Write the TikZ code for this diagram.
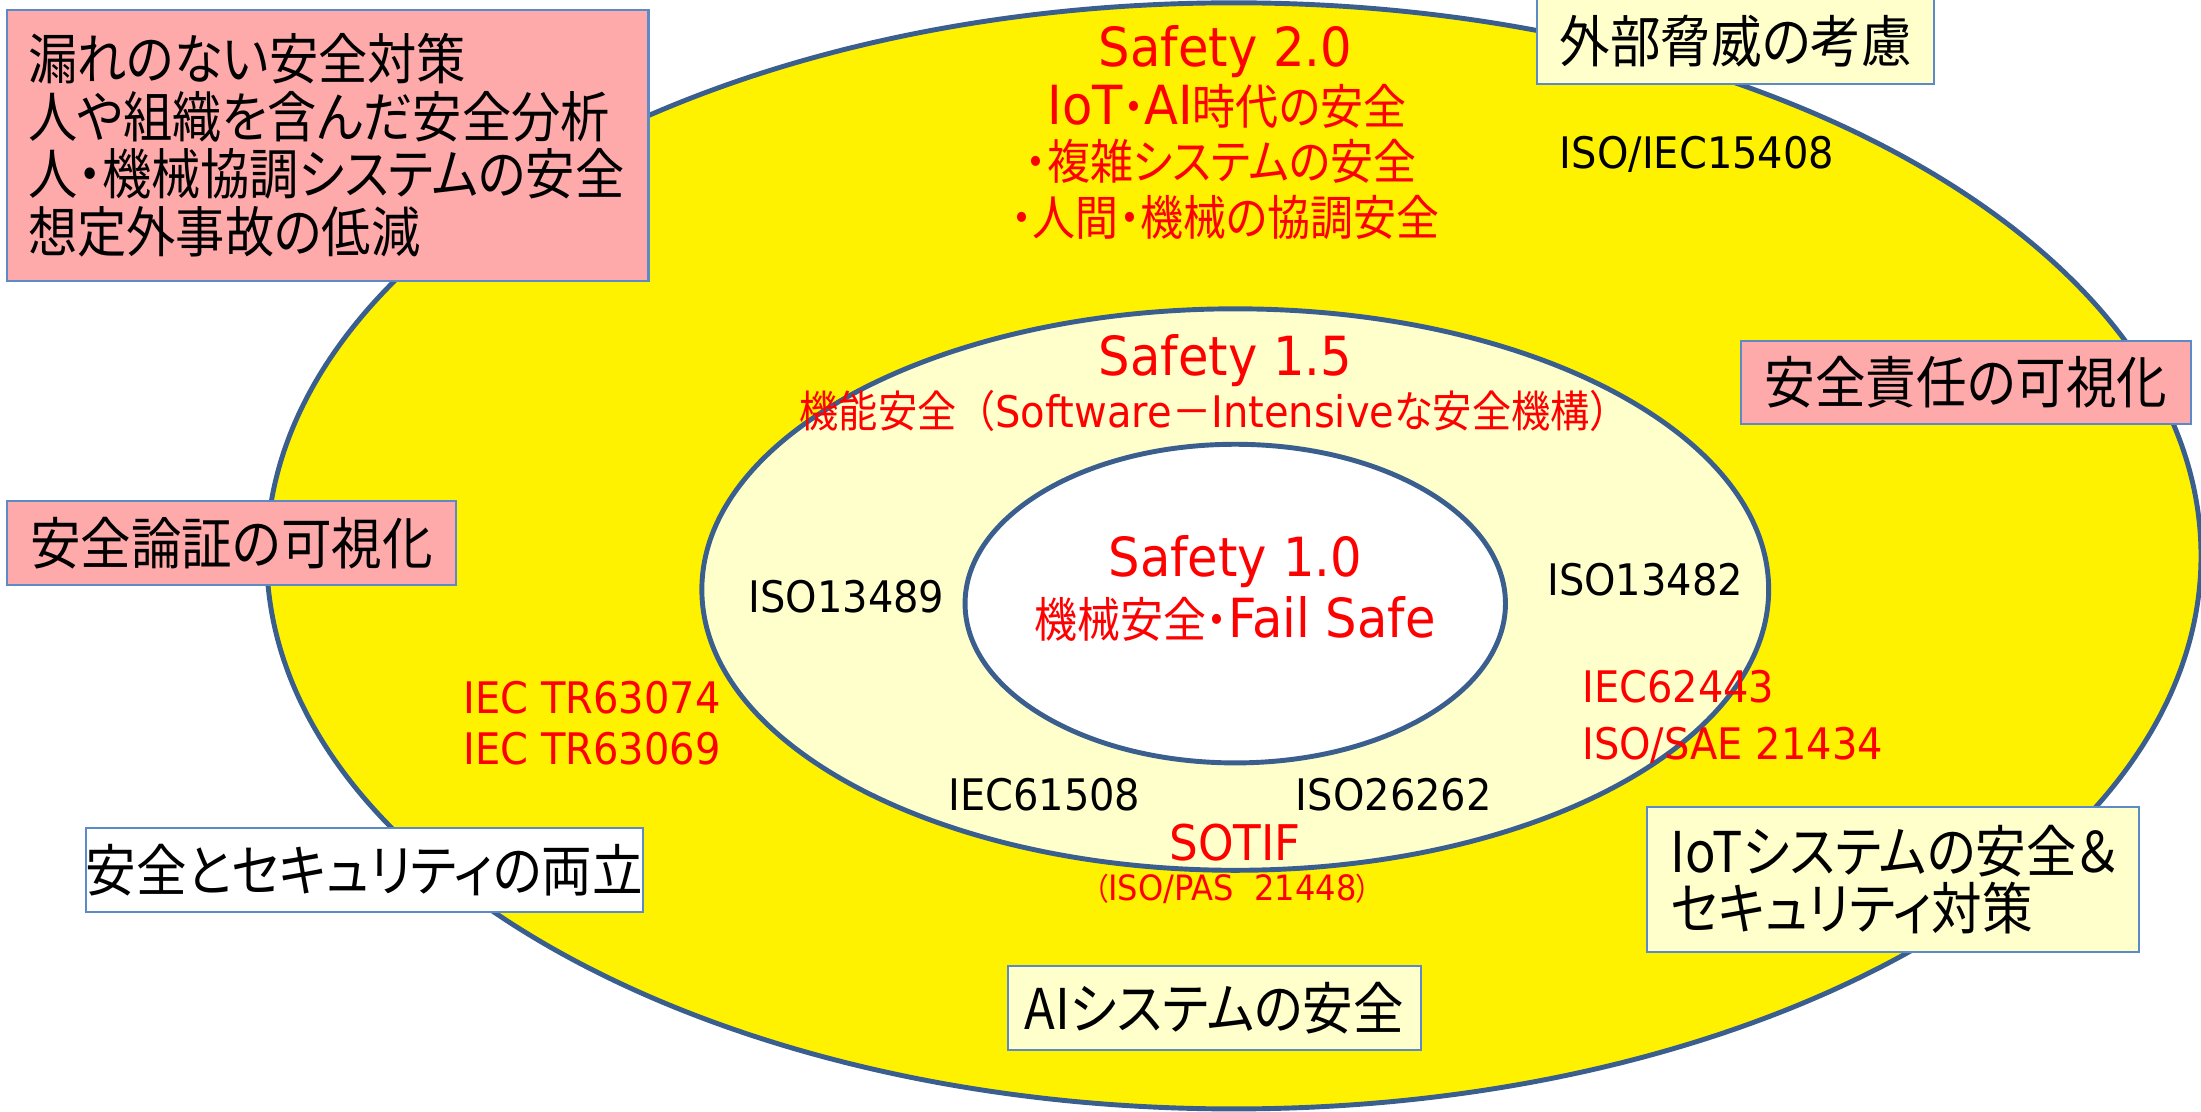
\documentclass[tikz,border=0pt]{standalone}
\usepackage{fontspec}
\setmainfont{Noto Sans CJK JP}[FakeStretch=0.9,RawFeature=+palt]
\newfontfamily\jpwide{Noto Sans CJK JP}[FakeStretch=0.9]
\newfontfamily\latfont{DejaVu Sans}[FakeStretch=0.92,Scale=1.13]
\newfontfamily\latplain{DejaVu Sans}[FakeStretch=0.92]
\newcommand\latn[1]{{\latfont #1}}
\newcommand\latp[1]{{\latplain #1}}
\usetikzlibrary{shapes.geometric}
\definecolor{ring}{HTML}{3A5F8E}
\definecolor{boxline}{HTML}{5B8AC6}
\definecolor{pinkfill}{HTML}{FFAAAA}
\definecolor{creamfill}{HTML}{FFFFCC}
\definecolor{safered}{HTML}{FF0000}
\newcommand\bxfont{\fontsize{40}{41}\selectfont}
\newcommand\goalfont{\fontsize{39}{41}\selectfont}
\newcommand\redmid{\fontsize{34}{38}\selectfont}
\newcommand\midline{\fontsize{31}{34}\selectfont}
\newcommand\stdfont{\fontsize{27.4}{30}\selectfont}
\newcommand\sotiffont{\fontsize{31}{34}\selectfont}
\newcommand\smallred{\fontsize{22}{25}\selectfont}
\tikzset{
  ringshape/.style={ellipse, draw=ring, line width=3.5pt, inner sep=0pt},
  labelbox/.style={draw=boxline, line width=1.5pt, inner sep=0pt, font=\bxfont, text=black},
  pinkbox/.style={labelbox, fill=pinkfill},
  creambox/.style={labelbox, fill=creamfill},
  whitebox/.style={labelbox, fill=white},
  redtext/.style={inner sep=0pt, text=safered, font=\redmid},
  redstd/.style={inner sep=0pt, text=safered, font=\stdfont},
  blackstd/.style={inner sep=0pt, text=black, font=\stdfont},
}
\begin{document}
\begin{tikzpicture}[x=1pt,y=-1pt]
\useasboundingbox (0,0) rectangle (1568,792);
% rings
\node[ringshape, fill=yellow, minimum width=1378pt, minimum height=788pt] (outer) at (879,396) {};
\node[ringshape, fill=creamfill, minimum width=760pt, minimum height=400pt] (middle) at (880,420) {};
\node[ringshape, fill=white, minimum width=385pt, minimum height=227pt] (inner) at (880,430) {};

% Safety 2.0
\node[redtext] (s20) at (873,37) {\latn{Safety 2.0}};
\node[redtext] (s20a) at (874,76) {\latn{IoT}・\latn{AI}時代の安全};
\node[redtext] (s20b) at (870,115) {・複雑システムの安全};
\node[redtext] (s20c) at (873,155) {・人間・機械の協調安全};
\node[blackstd] (iso15408) at (1209,110) {\latn{ISO/IEC15408}};

% Safety 1.5
\node[redtext] (s15) at (873,257) {\latn{Safety 1.5}};
\node[inner sep=0pt, text=safered, font=\midline] (s15a) at (865,293)
  {機能安全{\jpwide （}\latp{Software}{\jpwide －}\latp{Intensive}な安全機構{\jpwide ）}};
\node[blackstd] (iso13489) at (603,425) {\latn{ISO13489}};
\node[blackstd] (iso13482) at (1172,413) {\latn{ISO13482}};
\node[blackstd] (iec61508) at (744,566) {\latn{IEC61508}};
\node[blackstd] (iso26262) at (993,566) {\latn{ISO26262}};
\node[inner sep=0pt, text=safered, font=\sotiffont] (sotif) at (880,600) {\latn{SOTIF}};
\node[inner sep=0pt, text=safered, font=\smallred] (pas) at (878,633) {（\latn{ISO/PAS\ \ 21448}）};

% Safety 1.0
\node[redtext] (s10) at (880,400) {\latn{Safety 1.0}};
\node[redtext] (s10a) at (880,441) {機械安全・\latn{Fail Safe}};

% security standards
\node[redstd, anchor=west] (iec62443) at (1127,489) {\latn{IEC62443}};
\node[redstd, anchor=west] (iso21434) at (1127,531) {\latn{ISO/SAE 21434}};
\node[redstd, anchor=west] (tr63074) at (330,497) {\latn{IEC TR63074}};
\node[redstd, anchor=west] (tr63069) at (330,533) {\latn{IEC TR63069}};

% boxes
\node[pinkbox, font=\goalfont, minimum width=457pt, minimum height=193pt, text width=427pt, align=left] (goals) at (233.5,103.5)
  {漏れのない安全対策\\人や組織を含んだ安全分析\\人・機械協調システムの安全\\想定外事故の低減};
\node[creambox, minimum width=283pt, minimum height=62pt] (ext) at (1236.5,29) {外部脅威の考慮};
\node[pinkbox, minimum width=321pt, minimum height=59pt] (resp) at (1400.5,272.5) {安全責任の可視化};
\node[pinkbox, minimum width=320pt, minimum height=60pt] (arg) at (165,387) {安全論証の可視化};
\node[whitebox, minimum width=391pt, minimum height=60pt] (secsafe) at (259.5,620) {安全とセキュリティの両立};
\node[creambox, minimum width=351pt, minimum height=103pt, text width=317pt, align=left] (iot) at (1348.5,626.5)
  {IoTシステムの安全＆\\セキュリティ対策};
\node[creambox, minimum width=294pt, minimum height=60pt] (ai) at (865,718) {AIシステムの安全};
\end{tikzpicture}
\end{document}
